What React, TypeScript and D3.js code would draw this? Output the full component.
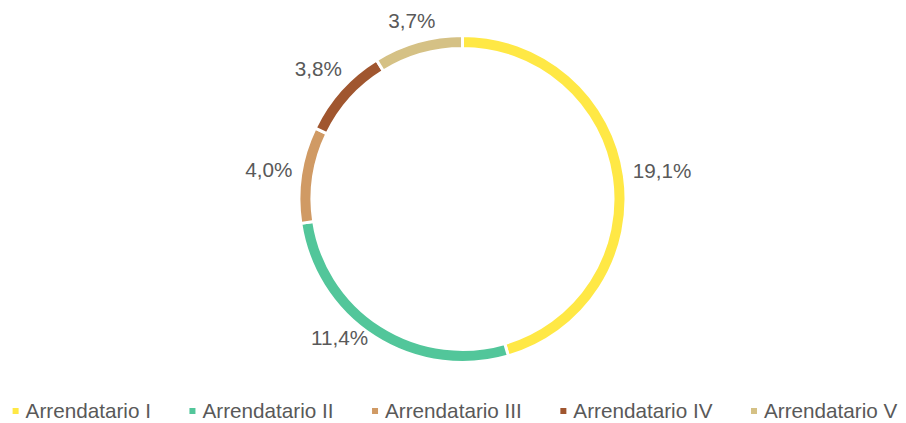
import React, { useRef, useEffect } from "react";
import * as d3 from "d3";

const categories = ["Arrendatario I", "Arrendatario II", "Arrendatario III", "Arrendatario IV", "Arrendatario V"];
const values = [19.1, 11.4, 4.0, 3.8, 3.7];
const labels = ["19,1%", "11,4%", "4,0%", "3,8%", "3,7%"];
const colors = ["#FFE845", "#52C69A", "#D09A64", "#A0562F", "#D5C185"];

const W = 906;
const H = 423;
const FONT = "'Liberation Sans', Arial, sans-serif";
const FS = 20.7;

function measure(text: string): number {
  const c = document.createElement("canvas").getContext("2d")!;
  c.font = `${FS}px ${FONT}`;
  return c.measureText(text).width;
}

export default function App() {
  const ref = useRef<SVGSVGElement>(null);
  useEffect(() => {
    const svg = d3.select(ref.current);
    svg.selectAll("*").remove();
    const cx = 462.5, cy = 199, R = 163.5, r = 150.5;
    const plotBottom = 345;
    const data = categories.map((c, i) => ({ c, v: values[i], l: labels[i], col: colors[i] }));
    const pie = d3.pie<any>().value((d) => d.v).sort(null);
    const arcs = pie(data);
    const arc = d3.arc<any>().innerRadius(r).outerRadius(R);
    const g = svg.append("g").attr("transform", `translate(${cx},${cy})`);
    g.selectAll("path").data(arcs).join("path")
      .attr("d", arc as any)
      .attr("fill", (d: any) => d.data.col)
      .attr("stroke", "#fff")
      .attr("stroke-width", 3);

    arcs.forEach((a: any) => {
      const mid = (a.startAngle + a.endAngle) / 2;
      const s = Math.sin(mid), c = Math.cos(mid);
      const hw = measure(a.data.l) / 2;
      const hh = 7.5;
      const base = R + 8;
      const ext = Math.abs(s) * hw + Math.abs(c) * hh;
      let x = (base + ext) * s;
      let y = -(base + ext) * c;
      if (cy + y + hh > plotBottom) {
        y = plotBottom - hh - cy;
        const yc = y - hh;
        const dx = Math.sqrt(Math.max(0, (R - 2) * (R - 2) - yc * yc));
        x = s < 0 ? -dx - hw : dx + hw;
      }
      g.append("text")
        .attr("x", x)
        .attr("y", y)
        .attr("dy", "0.35em")
        .attr("text-anchor", "middle")
        .attr("font-family", FONT)
        .attr("font-size", FS)
        .attr("fill", "#595959")
        .text(a.data.l);
    });

    const widths = categories.map(measure);
    const sq = 6, sqGap = 7, itemGap = 38.5;
    const total = widths.reduce((s, w) => s + w, 0) + categories.length * (sq + sqGap) + (categories.length - 1) * itemGap;
    let lx = (W - total) / 2 + 2;
    const ly = 411;
    categories.forEach((cat, i) => {
      svg.append("rect").attr("x", lx).attr("y", ly - sq / 2).attr("width", sq).attr("height", sq).attr("fill", colors[i]);
      svg.append("text")
        .attr("x", lx + sq + sqGap)
        .attr("y", ly)
        .attr("dy", "0.35em")
        .attr("font-family", FONT)
        .attr("font-size", FS)
        .attr("fill", "#595959")
        .text(cat);
      lx += sq + sqGap + widths[i] + itemGap;
    });
  }, []);
  return (
    <svg ref={ref} width={W} height={H} style={{ position: "absolute", left: 0, top: 0, background: "#fff" }} />
  );
}
